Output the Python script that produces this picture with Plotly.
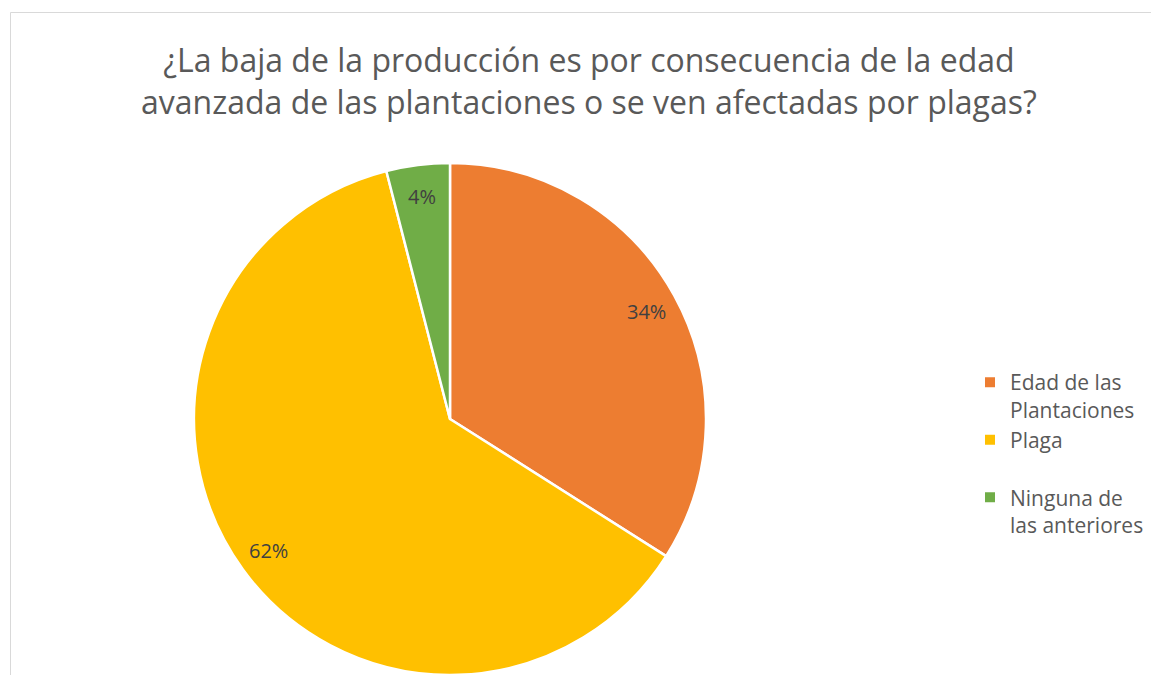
import math
import plotly.graph_objects as go

# Survey answers and their shares
categories = ["Edad de las<br>Plantaciones", "Plaga<br> ", "Ninguna de<br>las anteriores"]
shares = [34, 62, 4]
colors = ["#ED7D31", "#FFC000", "#70AD47"]

title_text = ("¿La baja de la producción es por consecuencia de la edad<br>"
              "avanzada de las plantaciones o se ven afectadas por plagas?")

W, H = 1151, 675
cx, cy, r = 450, 419, 256

fig = go.Figure(
    go.Pie(
        labels=categories,
        values=shares,
        sort=False,
        direction="clockwise",
        rotation=0,
        marker=dict(colors=colors, line=dict(color="white", width=2.5)),
        textinfo="none",
        hoverinfo="label+percent",
        domain=dict(x=[(cx - r) / W, (cx + r) / W],
                    y=[(H - cy - r) / H, (H - cy + r) / H]),
    )
)

# Percentage labels placed near the rim, along each slice's middle angle
annotations = []
total = sum(shares)
start = 0.0
for v in shares:
    mid = (start + v / 2) / total * 2 * math.pi
    start += v
    rr = 0.875 * r
    px = cx + rr * math.sin(mid)
    py = cy - rr * math.cos(mid)
    annotations.append(dict(
        text=f"{v}%", x=px / W, y=(H - py) / H, xref="paper", yref="paper",
        xanchor="center", yanchor="middle", showarrow=False,
        font=dict(family="Open Sans", size=20, color="#404040")))

annotations.append(dict(
    text=title_text, x=589 / W, y=(H - 36) / H, xref="paper", yref="paper",
    xanchor="center", yanchor="top", showarrow=False,
    font=dict(family="Open Sans", size=32, color="#595959")))

fig.update_layout(
    width=W,
    height=H,
    margin=dict(l=0, r=0, t=0, b=0),
    paper_bgcolor="white",
    showlegend=True,
    legend=dict(
        x=970 / W, y=(H - 362) / H, xanchor="left", yanchor="top",
        font=dict(family="Open Sans", size=21, color="#595959"),
        itemsizing="constant",
        valign="top",
        tracegroupgap=0,
    ),
    annotations=annotations,
    shapes=[
        dict(type="line", xref="paper", yref="paper",
             x0=10.5 / W, x1=1.0, y0=(H - 12.5) / H, y1=(H - 12.5) / H,
             line=dict(color="#D9D9D9", width=1)),
        dict(type="line", xref="paper", yref="paper",
             x0=10.5 / W, x1=10.5 / W, y0=0, y1=(H - 12.5) / H,
             line=dict(color="#D9D9D9", width=1)),
    ],
)

fig.write_html("out.html")
